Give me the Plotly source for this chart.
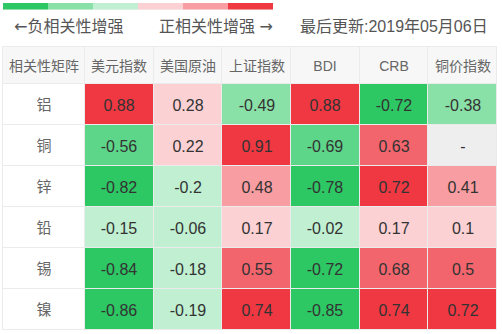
import plotly.graph_objects as go

# ---- data -------------------------------------------------------------
row_header = "相关性矩阵"
columns = ["美元指数", "美国原油", "上证指数", "BDI", "CRB", "铜价指数"]
metals = ["铝", "铜", "锌", "铅", "锡", "镍"]
corr = [
    [0.88, 0.28, -0.49, 0.88, -0.72, -0.38],
    [-0.56, 0.22, 0.91, -0.69, 0.63, None],
    [-0.82, -0.2, 0.48, -0.78, 0.72, 0.41],
    [-0.15, -0.06, 0.17, -0.02, 0.17, 0.1],
    [-0.84, -0.18, 0.55, -0.72, 0.68, 0.5],
    [-0.86, -0.19, 0.74, -0.85, 0.74, 0.72],
]
legend_levels = [-4, -2, -1, 1, 2, 4]
legend_left = "负相关性增强"
legend_right = "正相关性增强"
updated = "最后更新:2019年05月06日"

# ---- styling ------------------------------------------------------------
W, H = 503, 334
FONT = "Liberation Sans, Arial, Noto Sans CJK SC, sans-serif"
ARROW_FONT = "DejaVu Sans"
BORDER = "#EBEBEB"
HEAD_BG = "#F7F7F7"
LABEL_FG = "#666666"
VALUE_FG = "#333333"
NOTE_FG = "#555555"
MISSING_BG = "#EEEEEE"

# colour for each strength level (negative = green, positive = red)
level_colors = {
    -4: "#2DC764", -3: "#5ED68A", -2: "#8AE1A7", -1: "#C0EFD1",
    0: MISSING_BG,
    1: "#FBD1D4", 2: "#F89DA1", 3: "#F2656D", 4: "#EF3842",
}


def level(v):
    if v is None:
        return 0
    a = abs(v)
    step = 1 if a < 0.3 else 2 if a < 0.5 else 3 if a < 0.7 else 4
    return step if v >= 0 else -step


def stepped_scale():
    keys = sorted(level_colors)
    n = len(keys)
    scale = []
    for i, k in enumerate(keys):
        scale.append([i / n, level_colors[k]])
        scale.append([(i + 1) / n, level_colors[k]])
    return scale


def flat(c):
    return [[0, c], [1, c]]


def fmt(v):
    return "-" if v is None else f"{v:g}"


def px_x(a, b):
    return [a / W, b / W]


def px_y(top, bottom):
    return [1 - bottom / H, 1 - top / H]


def arrow(ch):
    return f'<span style="font-family:{ARROW_FONT}">{ch}</span>'


z_levels = [[level(v) for v in row] for row in corr]
text_vals = [[fmt(v) for v in row] for row in corr]

fig = go.Figure()

common = dict(showscale=False, hoverinfo="skip", xgap=1, ygap=1,
              texttemplate="%{text}")

# header row: corner cell + column names
fig.add_trace(go.Heatmap(z=[[0]], x=[0], y=[0], text=[[row_header]],
                         colorscale=flat(HEAD_BG),
                         textfont=dict(family=FONT, size=14, color=LABEL_FG),
                         xaxis="x", yaxis="y", **common))
fig.add_trace(go.Heatmap(z=[[0] * len(columns)], x=columns, y=[0],
                         text=[columns], colorscale=flat(HEAD_BG),
                         textfont=dict(family=FONT, size=14, color=LABEL_FG),
                         xaxis="x2", yaxis="y", **common))
# row labels
fig.add_trace(go.Heatmap(z=[[0] for _ in metals], x=[0], y=metals,
                         text=[[m] for m in metals], colorscale=flat("#FFFFFF"),
                         textfont=dict(family=FONT, size=15, color=LABEL_FG),
                         xaxis="x", yaxis="y2", **common))
# correlation cells
fig.add_trace(go.Heatmap(z=z_levels, x=columns, y=metals, text=text_vals,
                         colorscale=stepped_scale(), zmin=-4.5, zmax=4.5,
                         textfont=dict(family=FONT, size=16, color=VALUE_FG),
                         xaxis="x2", yaxis="y2", **common))
# colour key strip
fig.add_trace(go.Heatmap(z=[legend_levels], x=list(range(len(legend_levels))),
                         y=[0], colorscale=stepped_scale(), zmin=-4.5, zmax=4.5,
                         showscale=False, hoverinfo="skip",
                         xaxis="x3", yaxis="y3"))

frame = dict(showline=True, mirror=True, linecolor=BORDER, linewidth=1,
             showgrid=False, zeroline=False, showticklabels=False, ticks="",
             fixedrange=True)
bare = dict(showline=False, showgrid=False, zeroline=False,
            showticklabels=False, ticks="", fixedrange=True)

TOP, HEAD_BOTTOM, BOTTOM = 47, 84, 330
LEFT, LABEL_RIGHT, RIGHT = 3, 85, 497

note_font = dict(family=FONT, size=16, color=NOTE_FG)

fig.update_layout(
    width=W, height=H,
    margin=dict(l=0, r=0, t=0, b=0),
    paper_bgcolor="#FFFFFF",
    plot_bgcolor=BORDER,
    showlegend=False,
    xaxis=dict(domain=px_x(LEFT, LABEL_RIGHT), anchor="y", **frame),
    xaxis2=dict(domain=px_x(LABEL_RIGHT, RIGHT), anchor="y", **frame),
    yaxis=dict(domain=px_y(TOP, HEAD_BOTTOM), anchor="x", **frame),
    yaxis2=dict(domain=px_y(HEAD_BOTTOM, BOTTOM), anchor="x",
                autorange="reversed", **frame),
    xaxis3=dict(domain=px_x(3, 273), anchor="y3", **bare),
    yaxis3=dict(domain=px_y(3, 9.5), anchor="x3", **bare),
    annotations=[
        dict(text=arrow("←") + legend_left, x=12 / W, y=1 - 26 / H,
             xref="paper", yref="paper", xanchor="left", yanchor="middle",
             showarrow=False, font=note_font),
        dict(text=legend_right + " " + arrow("→"), x=157 / W, y=1 - 26 / H,
             xref="paper", yref="paper", xanchor="left", yanchor="middle",
             showarrow=False, font=note_font),
        dict(text=updated, x=490 / W, y=1 - 26 / H, xref="paper",
             yref="paper", xanchor="right", yanchor="middle",
             showarrow=False, font=note_font),
    ],
)

fig.write_html("out.html")
